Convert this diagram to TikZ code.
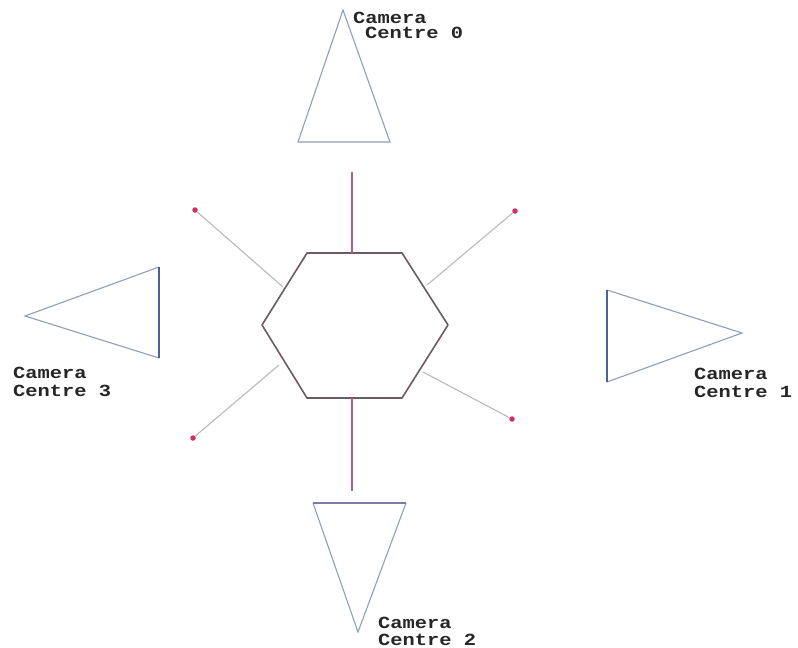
\documentclass[tikz,border=0pt]{standalone}
\usepackage{fontspec}
\newfontfamily\labfont{Liberation Mono}
\definecolor{camline}{RGB}{140,160,185}
\definecolor{cambase}{RGB}{70,100,150}
\definecolor{cambase2}{RGB}{130,120,165}
\definecolor{hexcol}{RGB}{105,92,100}
\definecolor{axiscol}{RGB}{175,95,135}
\definecolor{diagcol}{RGB}{185,185,185}
\definecolor{dotcol}{RGB}{210,45,100}
\tikzset{
  camtri/.style={draw=camline, line width=1.1pt, line join=miter},
  cambaseline/.style={draw=cambase, line width=1.3pt},
  hexline/.style={draw=hexcol, line width=1.6pt, line join=round},
  axisline/.style={draw=axiscol, line width=1.2pt},
  diagline/.style={draw=diagcol, line width=1.1pt},
  enddot/.style={circle, fill=dotcol, inner sep=0pt, minimum size=5.5pt},
  camlabel/.style={font=\labfont\bfseries\fontsize{17}{17}\selectfont, anchor=north west, inner sep=0pt, xscale=1.2, text=black!85}
}
\begin{document}
\begin{tikzpicture}[x=1pt,y=-1pt]
\useasboundingbox (0,0) rectangle (798,648);
% hexagon corners
\coordinate (h1) at (307,253);
\coordinate (h2) at (402,253);
\coordinate (h3) at (448,325);
\coordinate (h4) at (402,398);
\coordinate (h5) at (307,398);
\coordinate (h6) at (262,325);
\draw[hexline] (h1) -- (h2) -- (h3) -- (h4) -- (h5) -- (h6) -- cycle;
% axis lines
\coordinate (ttop) at (352,172);
\coordinate (tbot) at (352,253);
\coordinate (btop) at (352,398);
\coordinate (bbot) at (352,491);
\draw[axisline] (ttop) -- (tbot);
\draw[axisline] (btop) -- (bbot);
% diagonal lines and dots
\node[enddot] (dul) at (195,210) {};
\node[enddot] (dur) at (515,211) {};
\node[enddot] (dll) at (193,438) {};
\node[enddot] (dlr) at (512,419) {};
\coordinate (iul) at (283,287);
\coordinate (iur) at (427,285);
\coordinate (ill) at (279,365);
\coordinate (ilr) at (423,372);
\draw[diagline] (iul) -- (dul);
\draw[diagline] (iur) -- (dur);
\draw[diagline] (ill) -- (dll);
\draw[diagline] (ilr) -- (dlr);
% camera 0
\coordinate (c0a) at (343,10);
\coordinate (c0l) at (298,142);
\coordinate (c0r) at (390,142);
\draw[camtri] (c0a) -- (c0l) -- (c0r) -- cycle;
% camera 1
\coordinate (c1a) at (742,333);
\coordinate (c1t) at (607,290);
\coordinate (c1b) at (607,382);
\draw[camtri] (c1t) -- (c1a) -- (c1b);
\draw[cambaseline] (c1t) -- (c1b);
% camera 2
\coordinate (c2a) at (358,632);
\coordinate (c2l) at (313,503);
\coordinate (c2r) at (406,503);
\draw[camtri] (c2l) -- (c2a) -- (c2r);
\draw[draw=cambase2, line width=1.2pt] (c2l) -- (c2r);
% camera 3
\coordinate (c3a) at (25,316);
\coordinate (c3t) at (159,267);
\coordinate (c3b) at (159,358);
\draw[camtri] (c3t) -- (c3a) -- (c3b);
\draw[cambaseline] (c3t) -- (c3b);
% labels
\node[camlabel] (l0a) at (353,12) {Camera};
\node[camlabel] (l0b) at (365,27) {Centre 0};
\node[camlabel] (l1a) at (694,368) {Camera};
\node[camlabel] (l1b) at (694,386) {Centre 1};
\node[camlabel] (l2a) at (378,617) {Camera};
\node[camlabel] (l2b) at (378,634) {Centre 2};
\node[camlabel] (l3a) at (13,367) {Camera};
\node[camlabel] (l3b) at (13,385) {Centre 3};
\end{tikzpicture}
\end{document}
